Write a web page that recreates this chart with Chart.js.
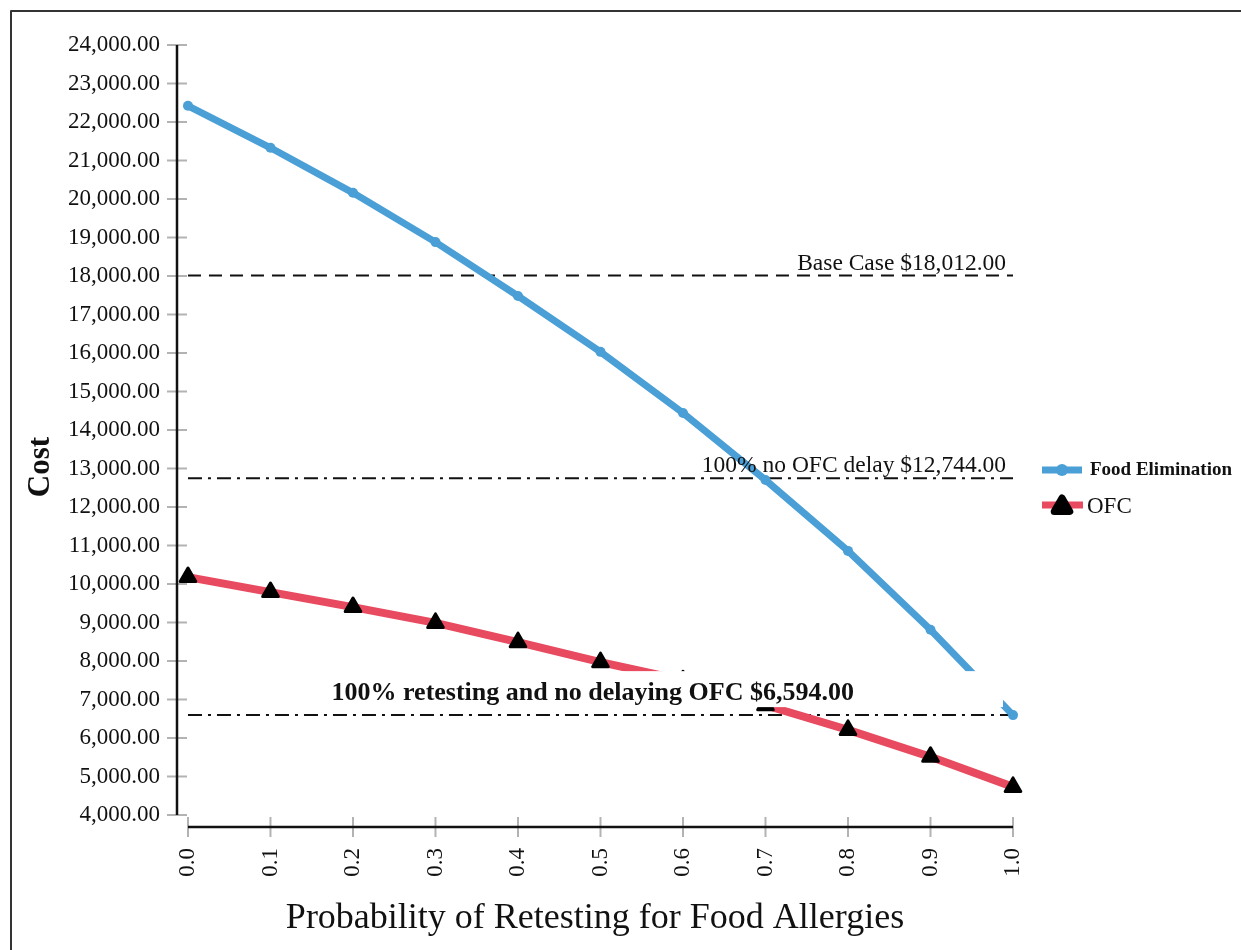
<!DOCTYPE html>
<html>
<head>
<meta charset="utf-8">
<script src="https://cdn.jsdelivr.net/npm/chart.js@4.4.0/dist/chart.umd.min.js"></script>
<style>
	html, body { margin: 0; padding: 0; background: #fff; }
	#wrap { width: 1241px; height: 950px; position: relative; }
</style>
</head>
<body>
<div id="wrap"><canvas id="myChart" width="1241" height="950"></canvas></div>
<script>
// values
var probabilities = [0, 0.1, 0.2, 0.3, 0.4, 0.5, 0.6, 0.7, 0.8, 0.9, 1.0];
var foodElimination = [22420, 21330, 20160, 18880, 17480, 16030, 14440, 12700, 10860, 8810, 6594];
var ofc = [10180, 9790, 9400, 8990, 8490, 7970, 7500, 6850, 6210, 5510, 4730];
var costTicks = [4000, 5000, 6000, 7000, 8000, 9000, 10000, 11000, 12000, 13000, 14000,
	15000, 16000, 17000, 18000, 19000, 20000, 21000, 22000, 23000, 24000];
var refValues = [18012, 12744, 6594];
var refLabels = ['Base Case $18,012.00', '100% no OFC delay $12,744.00', '100% retesting and no delaying OFC $6,594.00'];

var SERIF = "'Liberation Serif', 'Times New Roman', serif";
var BLUE = '#4a9fd6';
var RED = '#e84a5f';

function points(ys) {
	return probabilities.map(function (p, i) { return { x: p, y: ys[i] }; });
}
function flat(v) {
	return [{ x: 0, y: v }, { x: 1, y: v }];
}

// axis lines + gray ticks that cross the axis, plus frame, notes and legend
var decorations = {
	id: 'decorations',
	beforeDatasetsDraw: function (chart) {
		var ctx = chart.ctx, xs = chart.scales.x, ys = chart.scales.y;
		var left = chart.chartArea.left, bottom = chart.chartArea.bottom;
		ctx.save();
		ctx.strokeStyle = '#b3b3b3';
		ctx.lineWidth = 2;
		costTicks.forEach(function (v) {
			var py = ys.getPixelForValue(v);
			ctx.beginPath(); ctx.moveTo(left - 10, py); ctx.lineTo(left + 10, py); ctx.stroke();
		});
		probabilities.forEach(function (v) {
			var px = xs.getPixelForValue(v);
			ctx.beginPath(); ctx.moveTo(px, bottom - 10); ctx.lineTo(px, bottom + 10); ctx.stroke();
		});
		ctx.strokeStyle = '#111';
		ctx.lineWidth = 2.5;
		ctx.beginPath();
		ctx.moveTo(left, ys.getPixelForValue(24000));
		ctx.lineTo(left, ys.getPixelForValue(4000));
		ctx.moveTo(xs.getPixelForValue(0), bottom);
		ctx.lineTo(xs.getPixelForValue(1), bottom);
		ctx.stroke();
		ctx.restore();
		// rounded triangle corners for the markers
		ctx.lineJoin = 'round';
	},
	afterDatasetsDraw: function (chart) {
		var ctx = chart.ctx, xs = chart.scales.x, ys = chart.scales.y;
		var right = xs.getPixelForValue(1);
		ctx.save();
		ctx.fillStyle = '#111';
		ctx.textBaseline = 'alphabetic';
		ctx.textAlign = 'right';
		ctx.font = '23.5px ' + SERIF;
		ctx.fillText(refLabels[0], right - 7, ys.getPixelForValue(refValues[0]) - 6);
		ctx.fillText(refLabels[1], right - 7, ys.getPixelForValue(refValues[1]) - 6);
		// white box behind the bold note hides the lines under it
		var y3 = ys.getPixelForValue(refValues[2]);
		ctx.fillStyle = '#fff';
		ctx.fillRect(xs.getPixelForValue(0.16), y3 - 44, right - 10 - xs.getPixelForValue(0.16), 36);
		ctx.fillStyle = '#111';
		ctx.textAlign = 'left';
		ctx.font = 'bold 26px ' + SERIF;
		ctx.fillText(refLabels[2], xs.getPixelForValue(0.174), y3 - 15);
		ctx.restore();
	},
	afterDraw: function (chart) {
		var ctx = chart.ctx, area = chart.chartArea;
		ctx.save();
		// frame
		ctx.strokeStyle = '#333';
		ctx.lineWidth = 2;
		ctx.beginPath();
		ctx.moveTo(11, 950); ctx.lineTo(11, 11); ctx.lineTo(1241, 11);
		ctx.stroke();
		// y title
		ctx.fillStyle = '#111';
		ctx.font = 'bold 31px ' + SERIF;
		ctx.textAlign = 'center';
		ctx.textBaseline = 'middle';
		ctx.translate(41, 467);
		ctx.rotate(-Math.PI / 2);
		ctx.fillText('Cost', 0, 0);
		ctx.restore();

		// legend
		var lx = area.right + 29;
		ctx.save();
		ctx.lineWidth = 7;
		ctx.strokeStyle = BLUE;
		ctx.beginPath(); ctx.moveTo(lx, 470); ctx.lineTo(lx + 40, 470); ctx.stroke();
		ctx.fillStyle = BLUE;
		ctx.beginPath(); ctx.arc(lx + 20, 470, 6, 0, Math.PI * 2); ctx.fill();
		ctx.strokeStyle = RED;
		ctx.beginPath(); ctx.moveTo(lx, 505); ctx.lineTo(lx + 41, 505); ctx.stroke();
		ctx.fillStyle = '#000';
		ctx.strokeStyle = '#000';
		ctx.lineJoin = 'round';
		Chart.helpers.drawPoint(ctx, { pointStyle: 'triangle', radius: 9, borderWidth: 3, rotation: 0 }, lx + 20, 507);
		ctx.fillStyle = '#111';
		ctx.textAlign = 'left';
		ctx.textBaseline = 'middle';
		ctx.font = 'bold 19px ' + SERIF;
		ctx.fillText('Food Elimination', lx + 48, 470);
		ctx.font = '23px ' + SERIF;
		ctx.fillText('OFC', lx + 45, 507);
		ctx.restore();
	}
};

var ctx = document.getElementById('myChart').getContext('2d');
var myChart = new Chart(ctx, {
	type: 'line',
	data: {
		datasets: [{
			label: 'Food Elimination',
			data: points(foodElimination),
			borderColor: BLUE,
			backgroundColor: BLUE,
			borderWidth: 7,
			pointRadius: 5,
			pointBorderWidth: 0,
			tension: 0,
			clip: false
		}, {
			label: 'OFC',
			data: points(ofc),
			borderColor: RED,
			backgroundColor: '#000',
			borderWidth: 8,
			pointStyle: 'triangle',
			pointRadius: 9,
			pointBorderColor: '#000',
			pointBorderWidth: 3,
			tension: 0,
			clip: false
		}, {
			label: 'Base Case',
			data: flat(refValues[0]),
			borderColor: '#111',
			borderWidth: 2,
			borderDash: [13, 8],
			pointRadius: 0
		}, {
			label: '100% no OFC delay',
			data: flat(refValues[1]),
			borderColor: '#111',
			borderWidth: 2,
			borderDash: [14, 6, 3, 6],
			pointRadius: 0
		}, {
			label: '100% retesting and no delaying OFC',
			data: flat(refValues[2]),
			borderColor: '#111',
			borderWidth: 2,
			borderDash: [14, 6, 3, 6],
			pointRadius: 0
		}]
	},
	options: {
		responsive: false,
		animation: false,
		layout: { padding: { top: 45, right: 228, bottom: 0, left: 0 } },
		plugins: {
			legend: { display: false },
			tooltip: { enabled: false }
		},
		scales: {
			x: {
				type: 'linear',
				min: -0.0133,
				max: 1,
				afterBuildTicks: function (s) {
					s.ticks = probabilities.map(function (v) { return { value: v }; });
				},
				afterFit: function (s) { s.height = 123; },
				grid: { display: false, drawTicks: false },
				border: { display: false },
				ticks: {
					autoSkip: false,
					minRotation: 90,
					maxRotation: 90,
					padding: 21,
					color: '#111',
					font: { family: SERIF, size: 23 },
					callback: function (v) { return Number(v).toFixed(1); }
				},
				title: {
					display: true,
					text: 'Probability of Retesting for Food Allergies',
					color: '#111',
					font: { family: SERIF, size: 36 },
					padding: { top: 0, bottom: 10 }
				}
			},
			y: {
				type: 'linear',
				min: 3688,
				max: 24000,
				afterBuildTicks: function (s) {
					s.ticks = costTicks.map(function (v) { return { value: v }; });
				},
				afterFit: function (s) { s.width = 177; },
				grid: { display: false, drawTicks: false },
				border: { display: false },
				ticks: {
					padding: 17,
					color: '#111',
					font: { family: SERIF, size: 23 },
					callback: function (v) {
						return Number(v).toLocaleString('en-US', { minimumFractionDigits: 2, maximumFractionDigits: 2 });
					}
				}
			}
		}
	},
	plugins: [decorations]
});
</script>
</body>
</html>
